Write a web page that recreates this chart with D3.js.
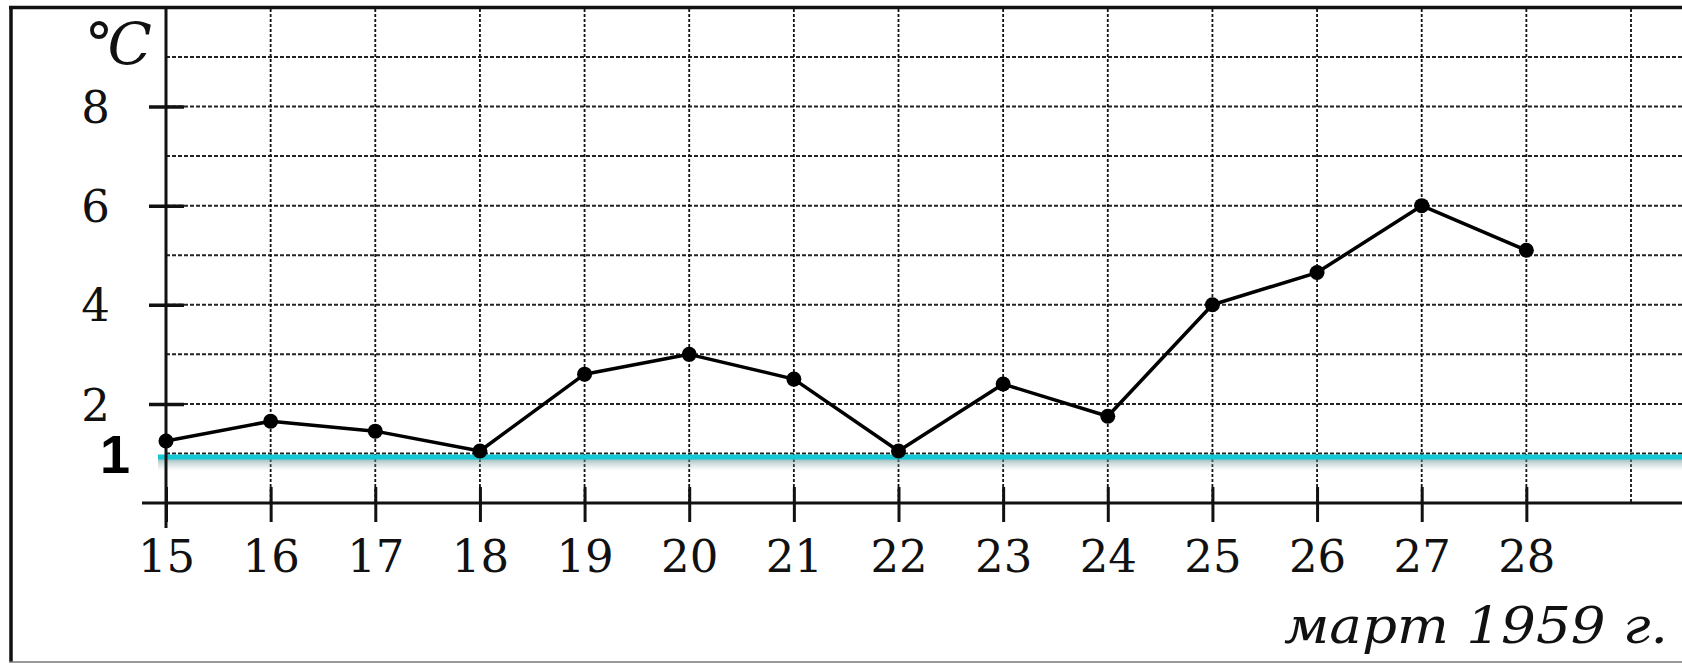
<!DOCTYPE html>
<html>
<head>
<meta charset="utf-8">
<script src="https://cdn.jsdelivr.net/npm/d3@7"></script>
<style>
  html, body { margin: 0; padding: 0; background: #fff; }
  svg { display: block; }
</style>
</head>
<body>
<svg id="chart" width="1682" height="664"></svg>
<script>
// ---- data ----
const days = [15, 16, 17, 18, 19, 20, 21, 22, 23, 24, 25, 26, 27, 28];
const temps = [1.25, 1.65, 1.45, 1.05, 2.6, 3.0, 2.5, 1.05, 2.4, 1.75, 4.0, 4.65, 6.0, 5.1];
const yTickValues = [2, 4, 6, 8];
const gridDays = [15, 16, 17, 18, 19, 20, 21, 22, 23, 24, 25, 26, 27, 28, 29];
const gridTemps = [1, 2, 3, 4, 5, 6, 7, 8, 9];
const refValue = 0.93;
const refLabel = "1";
const unitLabel = "°C";
const xTitle = "март 1959 г.";

// ---- drawing ----
const W = 1682, H = 664;
const svg = d3.select("#chart");
const x = d3.scaleLinear().domain([15, 29]).range([166, 1631]);
const y = d3.scaleLinear().domain([0, 9]).range([503, 57]);
const serif = "'DejaVu Serif', 'Liberation Serif', serif";

svg.append("rect").attr("width", W).attr("height", H).attr("fill", "#fff");

// frame
svg.append("line").attr("x1", 11).attr("x2", 11).attr("y1", 6).attr("y2", 662)
  .attr("stroke", "#111").attr("stroke-width", 3.5);
svg.append("line").attr("x1", 9).attr("x2", W).attr("y1", 7.5).attr("y2", 7.5)
  .attr("stroke", "#111").attr("stroke-width", 3.5);
svg.append("line").attr("x1", 9).attr("x2", W).attr("y1", 662).attr("y2", 662)
  .attr("stroke", "#777").attr("stroke-width", 1.5);

// grid
const grid = svg.append("g");
grid.selectAll("line.h").data(gridTemps).join("line").attr("class", "h")
  .attr("x1", x(15)).attr("x2", W)
  .attr("y1", d => y(d)).attr("y2", d => y(d))
  .attr("stroke", "#222").attr("stroke-width", 2).attr("stroke-dasharray", "4,2");
grid.selectAll("line.v").data(gridDays.slice(1)).join("line").attr("class", "v")
  .attr("x1", d => x(d)).attr("x2", d => x(d))
  .attr("y1", 9).attr("y2", y(0))
  .attr("stroke", "#111").attr("stroke-width", 1.8).attr("stroke-dasharray", "3,2");

// reference line with shadow
const defs = svg.append("defs");
const grad = defs.append("linearGradient").attr("id", "shadow")
  .attr("x1", 0).attr("x2", 0).attr("y1", 0).attr("y2", 1);
grad.append("stop").attr("offset", "0%").attr("stop-color", "#5f8e90").attr("stop-opacity", 0.6);
grad.append("stop").attr("offset", "100%").attr("stop-color", "#9fbcbd").attr("stop-opacity", 0);
svg.append("rect").attr("x", 158).attr("width", W - 158)
  .attr("y", y(refValue) + 2).attr("height", 12).attr("fill", "url(#shadow)");
svg.append("line").attr("x1", 158).attr("x2", W)
  .attr("y1", y(refValue)).attr("y2", y(refValue))
  .attr("stroke", "#14c8d6").attr("stroke-width", 5);
svg.append("text").attr("x", 115).attr("y", y(refValue) + 16)
  .attr("text-anchor", "middle")
  .attr("font-family", "'Liberation Sans', Arial, sans-serif").attr("font-weight", "bold")
  .attr("font-size", 54).attr("fill", "#000").text(refLabel);

// axes
const yAxis = svg.append("g").attr("transform", `translate(${x(15)},0)`)
  .call(d3.axisLeft(y).tickValues(yTickValues).tickSize(17).tickPadding(0).tickFormat(d3.format("d")));
yAxis.select(".domain").remove();
yAxis.selectAll(".tick line").attr("x1", -17).attr("x2", 18)
  .attr("stroke", "#111").attr("stroke-width", 3.5);
yAxis.selectAll(".tick text")
  .attr("x", -56).attr("dy", "0.36em")
  .attr("font-family", serif).attr("font-size", 45).attr("fill", "#111")
  .attr("text-anchor", "end");

const xAxis = svg.append("g").attr("transform", `translate(0,${y(0)})`)
  .call(d3.axisBottom(x).tickValues(days).tickSize(19).tickPadding(0).tickFormat(d3.format("d")));
xAxis.select(".domain").remove();
xAxis.selectAll(".tick line").attr("y1", -16).attr("y2", 19)
  .attr("stroke", "#111").attr("stroke-width", 3);
xAxis.selectAll(".tick text")
  .attr("y", 69).attr("dy", 0)
  .attr("font-family", serif).attr("font-size", 45).attr("fill", "#111");

// axis lines
svg.append("line").attr("x1", x(15)).attr("x2", x(15)).attr("y1", 8).attr("y2", y(0) + 25)
  .attr("stroke", "#111").attr("stroke-width", 3);
svg.append("line").attr("x1", x(15) - 24).attr("x2", W).attr("y1", y(0)).attr("y2", y(0))
  .attr("stroke", "#111").attr("stroke-width", 3);

// unit label (single text)
svg.append("text").attr("x", 146).attr("y", 64).attr("text-anchor", "end")
  .attr("font-family", serif).attr("font-style", "italic").attr("font-size", 58)
  .attr("letter-spacing", -6)
  .attr("fill", "#111").text(unitLabel);

// data line
const line = d3.line().x((d, i) => x(days[i])).y(d => y(d));
svg.append("path").datum(temps).attr("d", line)
  .attr("fill", "none").attr("stroke", "#000").attr("stroke-width", 3.5).attr("stroke-linejoin", "round");
svg.selectAll("circle.pt").data(temps).join("circle").attr("class", "pt")
  .attr("cx", (d, i) => x(days[i])).attr("cy", d => y(d)).attr("r", 7.5).attr("fill", "#000");

// x title
svg.append("text").attr("x", 1668).attr("y", 643).attr("text-anchor", "end")
  .attr("font-family", serif).attr("font-style", "italic").attr("font-size", 50)
  .attr("textLength", 384).attr("lengthAdjust", "spacingAndGlyphs")
  .attr("fill", "#111").text(xTitle);
</script>
</body>
</html>
